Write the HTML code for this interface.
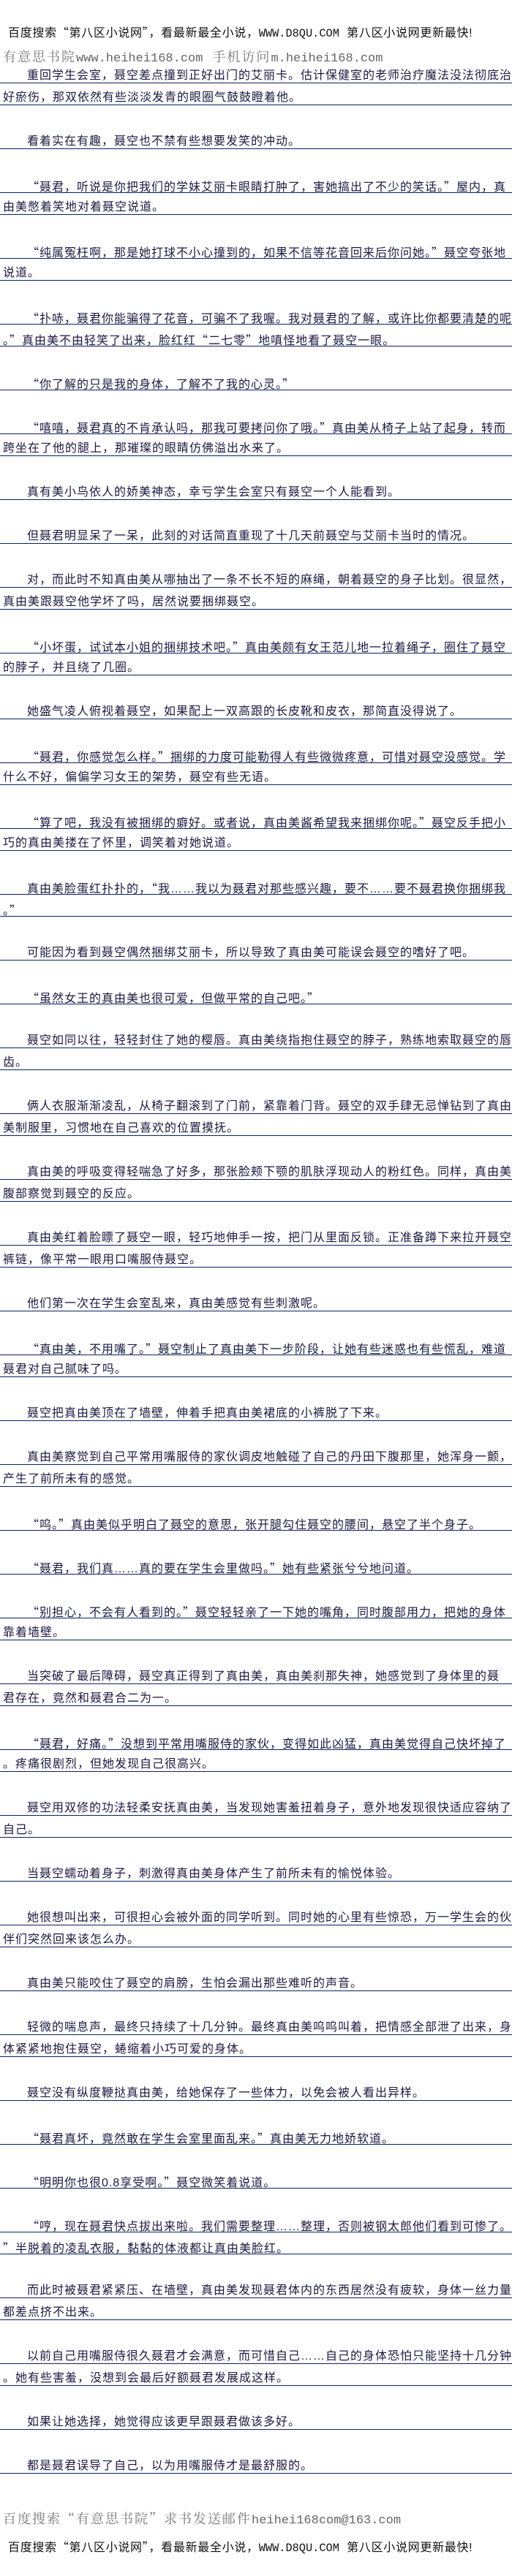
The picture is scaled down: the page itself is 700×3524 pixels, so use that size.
<!DOCTYPE html>
<html><head><meta charset="utf-8">
<style>
html,body{margin:0;padding:0;background:#fff;}
body{width:700px;height:3524px;position:relative;overflow:hidden;font-family:"Liberation Sans","Noto Sans CJK SC",sans-serif;}
.q{font-style:normal;font-family:"Noto Sans CJK SC",sans-serif;}
.h1{position:absolute;left:11px;font-size:16px;line-height:20px;color:#111;white-space:nowrap;letter-spacing:0.7px;}
.h1 .m{font-family:"Liberation Mono",monospace;font-size:15.3px;letter-spacing:0;}
.h2{position:absolute;left:4px;font-family:"Liberation Serif","Noto Serif CJK SC",serif;font-size:18px;line-height:22px;color:#777;white-space:nowrap;letter-spacing:2px;}
.h2 .m{font-family:"Liberation Mono",monospace;font-size:17px;letter-spacing:0;color:#666;}
.h2 .q{font-family:"Noto Serif CJK SC",serif;}
#txt{position:absolute;left:0;top:84px;width:700px;}
.l{height:29px;border-bottom:1px solid #0b2260;box-sizing:content-box;white-space:nowrap;overflow:hidden;font-size:16px;line-height:16px;color:#1a1a40;letter-spacing:1px;padding-left:4px;}
.l span{display:block;padding-top:12px;}
.f{padding-left:37px;}
.b{height:30px;}
</style></head><body>
<div class="h1" style="top:33px">百度搜索<i class="q">“</i>第八区小说网<i class="q">”</i>，看最新最全小说，<span class="m">WWW.D8QU.COM</span>&nbsp;&nbsp;第八区小说网更新最快!</div>
<div class="h2" style="top:67px">有意思书院<span class="m">www.heihei168.com</span>&nbsp;&nbsp;手机访问<span class="m">m.heihei168.com</span></div>
<div id="txt">
<div class="l f"><span>重回学生会室，聂空差点撞到正好出门的艾丽卡。估计保健室的老师治疗魔法没法彻底治</span></div>
<div class="l"><span>好瘀伤，那双依然有些淡淡发青的眼圈气鼓鼓瞪着他。</span></div>
<div class="b"></div>
<div class="l f"><span>看着实在有趣，聂空也不禁有些想要发笑的冲动。</span></div>
<div class="b"></div>
<div class="l f"><span><i class="q">“</i>聂君，听说是你把我们的学妹艾丽卡眼睛打肿了，害她搞出了不少的笑话。<i class="q">”</i>屋内，真</span></div>
<div class="l"><span>由美憋着笑地对着聂空说道。</span></div>
<div class="b"></div>
<div class="l f"><span><i class="q">“</i>纯属冤枉啊，那是她打球不小心撞到的，如果不信等花音回来后你问她。<i class="q">”</i>聂空夸张地</span></div>
<div class="l"><span>说道。</span></div>
<div class="b"></div>
<div class="l f"><span><i class="q">“</i>扑哧，聂君你能骗得了花音，可骗不了我喔。我对聂君的了解，或许比你都要清楚的呢</span></div>
<div class="l"><span>。<i class="q">”</i>真由美不由轻笑了出来，脸红红<i class="q">“</i>二七零<i class="q">”</i>地嗔怪地看了聂空一眼。</span></div>
<div class="b"></div>
<div class="l f"><span><i class="q">“</i>你了解的只是我的身体，了解不了我的心灵。<i class="q">”</i></span></div>
<div class="b"></div>
<div class="l f"><span><i class="q">“</i>嘻嘻，聂君真的不肯承认吗，那我可要拷问你了哦。<i class="q">”</i>真由美从椅子上站了起身，转而</span></div>
<div class="l"><span>跨坐在了他的腿上，那璀璨的眼睛仿佛溢出水来了。</span></div>
<div class="b"></div>
<div class="l f"><span>真有美小鸟依人的娇美神态，幸亏学生会室只有聂空一个人能看到。</span></div>
<div class="b"></div>
<div class="l f"><span>但聂君明显呆了一呆，此刻的对话简直重现了十几天前聂空与艾丽卡当时的情况。</span></div>
<div class="b"></div>
<div class="l f"><span>对，而此时不知真由美从哪抽出了一条不长不短的麻绳，朝着聂空的身子比划。很显然，</span></div>
<div class="l"><span>真由美跟聂空他学坏了吗，居然说要捆绑聂空。</span></div>
<div class="b"></div>
<div class="l f"><span><i class="q">“</i>小坏蛋，试试本小姐的捆绑技术吧。<i class="q">”</i>真由美颇有女王范儿地一拉着绳子，圈住了聂空</span></div>
<div class="l"><span>的脖子，并且绕了几圈。</span></div>
<div class="b"></div>
<div class="l f"><span>她盛气凌人俯视着聂空，如果配上一双高跟的长皮靴和皮衣，那简直没得说了。</span></div>
<div class="b"></div>
<div class="l f"><span><i class="q">“</i>聂君，你感觉怎么样。<i class="q">”</i>捆绑的力度可能勒得人有些微微疼意，可惜对聂空没感觉。学</span></div>
<div class="l"><span>什么不好，偏偏学习女王的架势，聂空有些无语。</span></div>
<div class="b"></div>
<div class="l f"><span><i class="q">“</i>算了吧，我没有被捆绑的癖好。或者说，真由美酱希望我来捆绑你呢。<i class="q">”</i>聂空反手把小</span></div>
<div class="l"><span>巧的真由美搂在了怀里，调笑着对她说道。</span></div>
<div class="b"></div>
<div class="l f"><span>真由美脸蛋红扑扑的，<i class="q">“</i>我……我以为聂君对那些感兴趣，要不……要不聂君换你捆绑我</span></div>
<div class="l"><span>。<i class="q">”</i></span></div>
<div class="b"></div>
<div class="l f"><span>可能因为看到聂空偶然捆绑艾丽卡，所以导致了真由美可能误会聂空的嗜好了吧。</span></div>
<div class="b"></div>
<div class="l f"><span><i class="q">“</i>虽然女王的真由美也很可爱，但做平常的自己吧。<i class="q">”</i></span></div>
<div class="b"></div>
<div class="l f"><span>聂空如同以往，轻轻封住了她的樱唇。真由美绕指抱住聂空的脖子，熟练地索取聂空的唇</span></div>
<div class="l"><span>齿。</span></div>
<div class="b"></div>
<div class="l f"><span>俩人衣服渐渐凌乱，从椅子翻滚到了门前，紧靠着门背。聂空的双手肆无忌惮钻到了真由</span></div>
<div class="l"><span>美制服里，习惯地在自己喜欢的位置摸抚。</span></div>
<div class="b"></div>
<div class="l f"><span>真由美的呼吸变得轻喘急了好多，那张脸颊下颚的肌肤浮现动人的粉红色。同样，真由美</span></div>
<div class="l"><span>腹部察觉到聂空的反应。</span></div>
<div class="b"></div>
<div class="l f"><span>真由美红着脸瞟了聂空一眼，轻巧地伸手一按，把门从里面反锁。正准备蹲下来拉开聂空</span></div>
<div class="l"><span>裤链，像平常一眼用口嘴服侍聂空。</span></div>
<div class="b"></div>
<div class="l f"><span>他们第一次在学生会室乱来，真由美感觉有些刺激呢。</span></div>
<div class="b"></div>
<div class="l f"><span><i class="q">“</i>真由美，不用嘴了。<i class="q">”</i>聂空制止了真由美下一步阶段，让她有些迷惑也有些慌乱，难道</span></div>
<div class="l"><span>聂君对自己腻味了吗。</span></div>
<div class="b"></div>
<div class="l f"><span>聂空把真由美顶在了墙壁，伸着手把真由美裙底的小裤脱了下来。</span></div>
<div class="b"></div>
<div class="l f"><span>真由美察觉到自己平常用嘴服侍的家伙调皮地触碰了自己的丹田下腹那里，她浑身一颤，</span></div>
<div class="l"><span>产生了前所未有的感觉。</span></div>
<div class="b"></div>
<div class="l f"><span><i class="q">“</i>呜。<i class="q">”</i>真由美似乎明白了聂空的意思，张开腿勾住聂空的腰间，悬空了半个身子。</span></div>
<div class="b"></div>
<div class="l f"><span><i class="q">“</i>聂君，我们真……真的要在学生会里做吗。<i class="q">”</i>她有些紧张兮兮地问道。</span></div>
<div class="b"></div>
<div class="l f"><span><i class="q">“</i>别担心，不会有人看到的。<i class="q">”</i>聂空轻轻亲了一下她的嘴角，同时腹部用力，把她的身体</span></div>
<div class="l"><span>靠着墙壁。</span></div>
<div class="b"></div>
<div class="l f"><span>当突破了最后障碍，聂空真正得到了真由美，真由美刹那失神，她感觉到了身体里的聂</span></div>
<div class="l"><span>君存在，竟然和聂君合二为一。</span></div>
<div class="b"></div>
<div class="l f"><span><i class="q">“</i>聂君，好痛。<i class="q">”</i>没想到平常用嘴服侍的家伙，变得如此凶猛，真由美觉得自己快坏掉了</span></div>
<div class="l"><span>。疼痛很剧烈，但她发现自己很高兴。</span></div>
<div class="b"></div>
<div class="l f"><span>聂空用双修的功法轻柔安抚真由美，当发现她害羞扭着身子，意外地发现很快适应容纳了</span></div>
<div class="l"><span>自己。</span></div>
<div class="b"></div>
<div class="l f"><span>当聂空蠕动着身子，刺激得真由美身体产生了前所未有的愉悦体验。</span></div>
<div class="b"></div>
<div class="l f"><span>她很想叫出来，可很担心会被外面的同学听到。同时她的心里有些惊恐，万一学生会的伙</span></div>
<div class="l"><span>伴们突然回来该怎么办。</span></div>
<div class="b"></div>
<div class="l f"><span>真由美只能咬住了聂空的肩膀，生怕会漏出那些难听的声音。</span></div>
<div class="b"></div>
<div class="l f"><span>轻微的喘息声，最终只持续了十几分钟。最终真由美呜呜叫着，把情感全部泄了出来，身</span></div>
<div class="l"><span>体紧紧地抱住聂空，蜷缩着小巧可爱的身体。</span></div>
<div class="b"></div>
<div class="l f"><span>聂空没有纵度鞭挞真由美，给她保存了一些体力，以免会被人看出异样。</span></div>
<div class="b"></div>
<div class="l f"><span><i class="q">“</i>聂君真坏，竟然敢在学生会室里面乱来。<i class="q">”</i>真由美无力地娇软道。</span></div>
<div class="b"></div>
<div class="l f"><span><i class="q">“</i>明明你也很0.8享受啊。<i class="q">”</i>聂空微笑着说道。</span></div>
<div class="b"></div>
<div class="l f"><span><i class="q">“</i>哼，现在聂君快点拔出来啦。我们需要整理……整理，否则被钢太郎他们看到可惨了。</span></div>
<div class="l"><span><i class="q">”</i>半脱着的凌乱衣服，黏黏的体液都让真由美脸红。</span></div>
<div class="b"></div>
<div class="l f"><span>而此时被聂君紧紧压、在墙壁，真由美发现聂君体内的东西居然没有疲软，身体一丝力量</span></div>
<div class="l"><span>都差点挤不出来。</span></div>
<div class="b"></div>
<div class="l f"><span>以前自己用嘴服侍很久聂君才会满意，而可惜自己……自己的身体恐怕只能坚持十几分钟</span></div>
<div class="l"><span>。她有些害羞，没想到会最后好额聂君发展成这样。</span></div>
<div class="b"></div>
<div class="l f"><span>如果让她选择，她觉得应该更早跟聂君做该多好。</span></div>
<div class="b"></div>
<div class="l f"><span>都是聂君误导了自己，以为用嘴服侍才是最舒服的。</span></div>
</div>
<div class="h2" style="top:3434px">百度搜索<i class="q">“</i>有意思书院<i class="q">”</i>求书发送邮件<span class="m">heihei168com@163.com</span></div>
<div class="h1" style="top:3473px">百度搜索<i class="q">“</i>第八区小说网<i class="q">”</i>，看最新最全小说，<span class="m">WWW.D8QU.COM</span>&nbsp;&nbsp;第八区小说网更新最快!</div>
</body></html>
